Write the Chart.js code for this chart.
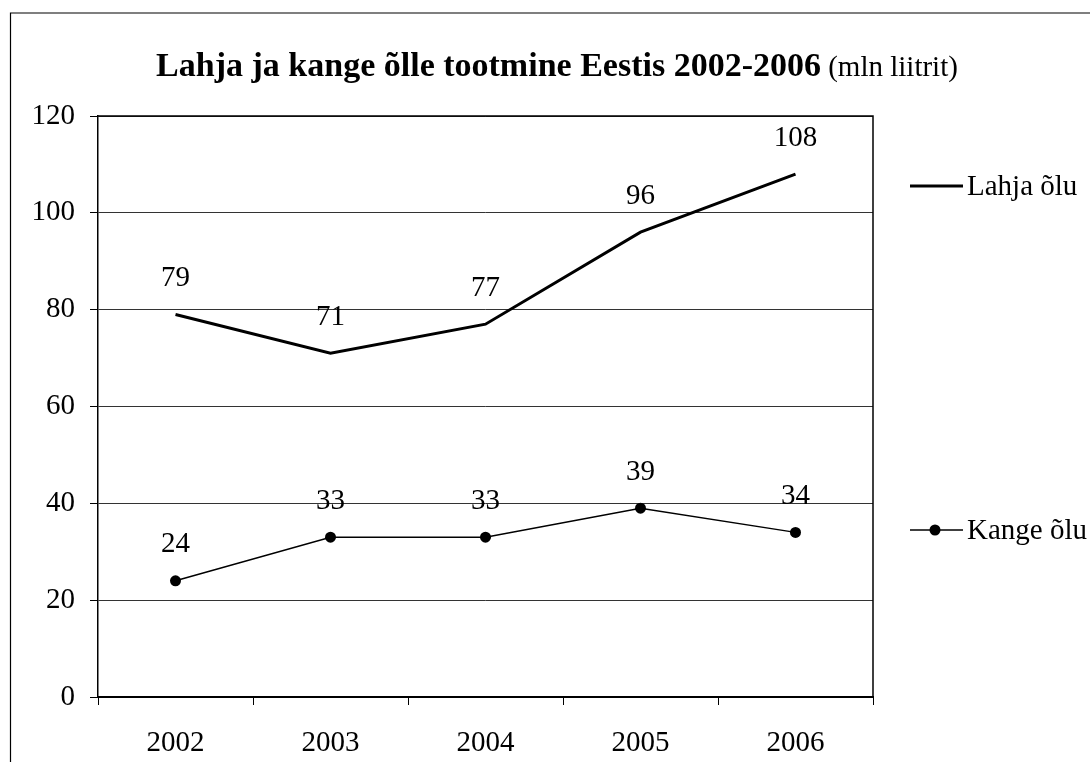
<!DOCTYPE html>
<html>
<head>
<meta charset="utf-8">
<script src="https://cdn.jsdelivr.net/npm/chart.js@4"></script>
<style>
  html, body { margin: 0; padding: 0; background: #fff; }
  #wrap { width: 1090px; height: 762px; }
</style>
</head>
<body>
<div id="wrap"><canvas id="chart-beer" width="1090" height="762"></canvas></div>
<script>
var years = ['2002', '2003', '2004', '2005', '2006'];
var lahjaOlu = [79, 71, 77, 96, 108];
var kangeOlu = [24, 33, 33, 39, 34];
var yTicks = [0, 20, 40, 60, 80, 100, 120];
var seriesNames = ['Lahja õlu', 'Kange õlu'];

var serif = '"Liberation Serif", "Times New Roman", serif';

// frame, title, plot box, value labels, legend
var decorPlugin = {
    id: 'decor',
    beforeDraw: function(chart) {
        var ctx = chart.ctx;
        ctx.save();
        ctx.strokeStyle = '#000';
        ctx.lineWidth = 1.2;
        ctx.beginPath();
        ctx.moveTo(10.5, 770);
        ctx.lineTo(10.5, 13);
        ctx.lineTo(1095, 13);
        ctx.stroke();
        ctx.restore();
    },
    afterDatasetsDraw: function(chart) {
        var ctx = chart.ctx;
        var area = chart.chartArea;
        ctx.save();

        // plot box top + right
        ctx.strokeStyle = '#000';
        ctx.lineWidth = 1.5;
        ctx.beginPath();
        ctx.moveTo(area.left, area.top);
        ctx.lineTo(area.right, area.top);
        ctx.lineTo(area.right, area.bottom);
        ctx.stroke();

        // title
        var boldPart = 'Lahja ja kange õlle tootmine Eestis 2002-2006';
        var normPart = ' (mln liitrit)';
        ctx.fillStyle = '#000';
        ctx.textBaseline = 'alphabetic';
        ctx.font = 'bold 34px ' + serif;
        var w1 = ctx.measureText(boldPart).width;
        ctx.font = '29px ' + serif;
        var w2 = ctx.measureText(normPart).width;
        var tx = 557 - (w1 + w2) / 2;
        ctx.textAlign = 'left';
        ctx.font = 'bold 34px ' + serif;
        ctx.fillText(boldPart, tx, 76);
        ctx.font = '29px ' + serif;
        ctx.fillText(normPart, tx + w1, 76);

        // value labels
        ctx.font = '29px ' + serif;
        ctx.textAlign = 'center';
        ctx.textBaseline = 'middle';
        chart.data.datasets.forEach(function(ds, i) {
            var meta = chart.getDatasetMeta(i);
            meta.data.forEach(function(pt, j) {
                ctx.fillText(String(ds.data[j]), pt.x, pt.y - 36);
            });
        });

        // legend
        var legendY = [186, 530];
        ctx.textAlign = 'left';
        ctx.textBaseline = 'middle';
        chart.data.datasets.forEach(function(ds, i) {
            var y = legendY[i];
            ctx.strokeStyle = '#000';
            ctx.lineWidth = ds.borderWidth;
            ctx.beginPath();
            ctx.moveTo(910, y);
            ctx.lineTo(963, y);
            ctx.stroke();
            if (ds.pointRadius > 0) {
                ctx.beginPath();
                ctx.arc(935, y, 5.5, 0, Math.PI * 2);
                ctx.fillStyle = '#000';
                ctx.fill();
            }
            ctx.fillStyle = '#000';
            ctx.fillText(ds.label, 967, y + 1);
        });

        ctx.restore();
    }
};

var configBeer = {
    type: 'line',
    data: {
        labels: years,
        datasets: [{
            label: seriesNames[0],
            data: lahjaOlu,
            borderColor: '#000',
            borderWidth: 3,
            borderCapStyle: 'butt',
            pointRadius: 0,
            tension: 0
        }, {
            label: seriesNames[1],
            data: kangeOlu,
            borderColor: '#000',
            backgroundColor: '#000',
            borderWidth: 1.5,
            pointRadius: 5.5,
            pointBackgroundColor: '#000',
            pointBorderWidth: 0,
            tension: 0
        }]
    },
    options: {
        responsive: false,
        animation: false,
        layout: {
            padding: { top: 116, right: 217, left: 0, bottom: 0 }
        },
        plugins: {
            legend: { display: false },
            title: { display: false },
            tooltip: { enabled: false }
        },
        scales: {
            x: {
                offset: true,
                afterFit: function(scale) { scale.height = 65; },
                grid: {
                    offset: true,
                    drawOnChartArea: false,
                    color: '#000',
                    tickLength: 8,
                    tickWidth: 1
                },
                border: { color: '#000', width: 2 },
                ticks: {
                    color: '#000',
                    padding: 21,
                    font: { family: serif, size: 29 }
                }
            },
            y: {
                min: 0,
                max: 120,
                afterFit: function(scale) { scale.width = 98; },
                afterBuildTicks: function(scale) {
                    scale.ticks = yTicks.map(function(v) { return { value: v }; });
                },
                grid: {
                    color: '#333',
                    lineWidth: 1,
                    tickLength: 8,
                    tickColor: '#000'
                },
                border: { color: '#000', width: 1.5 },
                ticks: {
                    color: '#000',
                    padding: 15,
                    font: { family: serif, size: 29 }
                }
            }
        }
    },
    plugins: [decorPlugin]
};

window.onload = function() {
    var ctxBeer = document.getElementById('chart-beer').getContext('2d');
    window.myBeer = new Chart(ctxBeer, configBeer);
};
</script>
</body>
</html>
